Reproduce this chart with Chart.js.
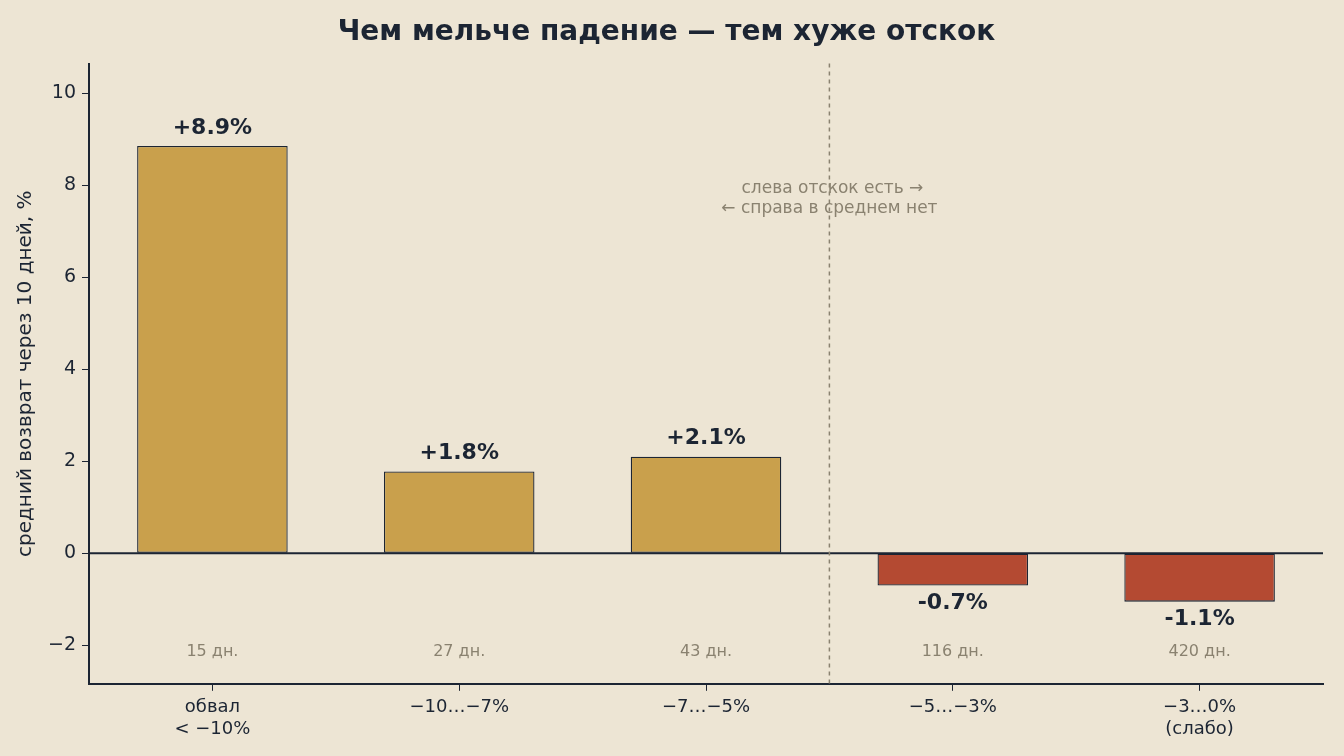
<!DOCTYPE html>
<html><head><meta charset="utf-8">
<script src="https://cdn.jsdelivr.net/npm/chart.js@4"></script>
<style>html,body{margin:0;background:#ede5d4}#w{width:1344px;height:756px}</style>
</head><body><div id="w"><canvas id="c"></canvas></div>
<script>
const categories = [["обвал","< −10%"],"−10…−7%","−7…−5%","−5…−3%",["−3…0%","(слабо)"]];
const values = [8.85, 1.78, 2.1, -0.7, -1.05];
const valueLabels = ["+8.9%","+1.8%","+2.1%","-0.7%","-1.1%"];
const counts = ["15 дн.","27 дн.","43 дн.","116 дн.","420 дн."];
const colors = values.map(v => v >= 0 ? "#c9a04c" : "#b44a32");
const F = "DejaVu Sans";
const plug = {
  id:'p',
  afterDatasetsDraw(ch){
    const {ctx, scales:{x,y}, chartArea:a} = ch;
    const meta = ch.getDatasetMeta(0);
    ctx.save();
    // zero line
    ctx.strokeStyle="#1c2533"; ctx.lineWidth=2;
    ctx.beginPath(); ctx.moveTo(a.left,y.getPixelForValue(0)); ctx.lineTo(a.right,y.getPixelForValue(0)); ctx.stroke();
    // dashed divider
    const mx=(x.getPixelForValue(2)+x.getPixelForValue(3))/2;
    ctx.strokeStyle="#8a8270"; ctx.lineWidth=1.5; ctx.setLineDash([4,4]);
    ctx.beginPath(); ctx.moveTo(mx,a.top); ctx.lineTo(mx,a.bottom); ctx.stroke();
    ctx.setLineDash([]);
    ctx.fillStyle="#8a8270"; ctx.font="17px "+F; ctx.textAlign="center"; ctx.textBaseline="middle";
    ctx.fillText("слева отскок есть →", mx+3, 189);
    ctx.fillText("← справа в среднем нет", mx, 209);
    meta.data.forEach((b,i)=>{
      ctx.fillStyle="#1c2533"; ctx.font="bold 22px "+F;
      const v=values[i];
      if(v>=0){ctx.textBaseline="bottom"; ctx.fillText(valueLabels[i], b.x, b.y-7);}
      else {ctx.textBaseline="top"; ctx.fillText(valueLabels[i], b.x, b.y+7);}
      ctx.fillStyle="#8a8270"; ctx.font="16px "+F; ctx.textBaseline="middle";
      ctx.fillText(counts[i], b.x, y.getPixelForValue(-2.15));
    });
    ctx.restore();
  }
};
new Chart(document.getElementById('c'),{
  type:'bar',
  data:{labels:categories,datasets:[{data:values,backgroundColor:colors,borderColor:"#1c2533",borderWidth:1.3,borderSkipped:false,barPercentage:0.61,categoryPercentage:1}]},
  options:{responsive:true,maintainAspectRatio:false,animation:false,
    layout:{padding:{left:10,right:21,top:0,bottom:10}},
    plugins:{legend:{display:false},tooltip:{enabled:false},
      title:{display:true,text:"Чем мельче падение — тем хуже отскок",color:"#1c2533",font:{family:F,size:28,weight:'bold'},padding:{top:16,bottom:14}}},
    scales:{
      x:{grid:{display:false,drawTicks:true},border:{color:"#1c2533",width:2},
        ticks:{color:"#1c2533",font:{family:F,size:18},padding:6},
        grid:{display:true,drawOnChartArea:false,color:"#1c2533",tickLength:7,offset:false}},
      y:{min:-2.835,max:10.64,afterBuildTicks(s){s.ticks=[-2,0,2,4,6,8,10].map(v=>({value:v}));},
        border:{color:"#1c2533",width:2},
        grid:{drawOnChartArea:false,color:"#1c2533",tickLength:7},
        ticks:{color:"#1c2533",font:{family:F,size:19},padding:6,callback:v=>v<0?"−"+Math.abs(v):String(v)},
        title:{display:true,text:"средний возврат через 10 дней, %",color:"#1c2533",font:{family:F,size:20}}}
    }},
  plugins:[plug]
});
</script></body></html>
